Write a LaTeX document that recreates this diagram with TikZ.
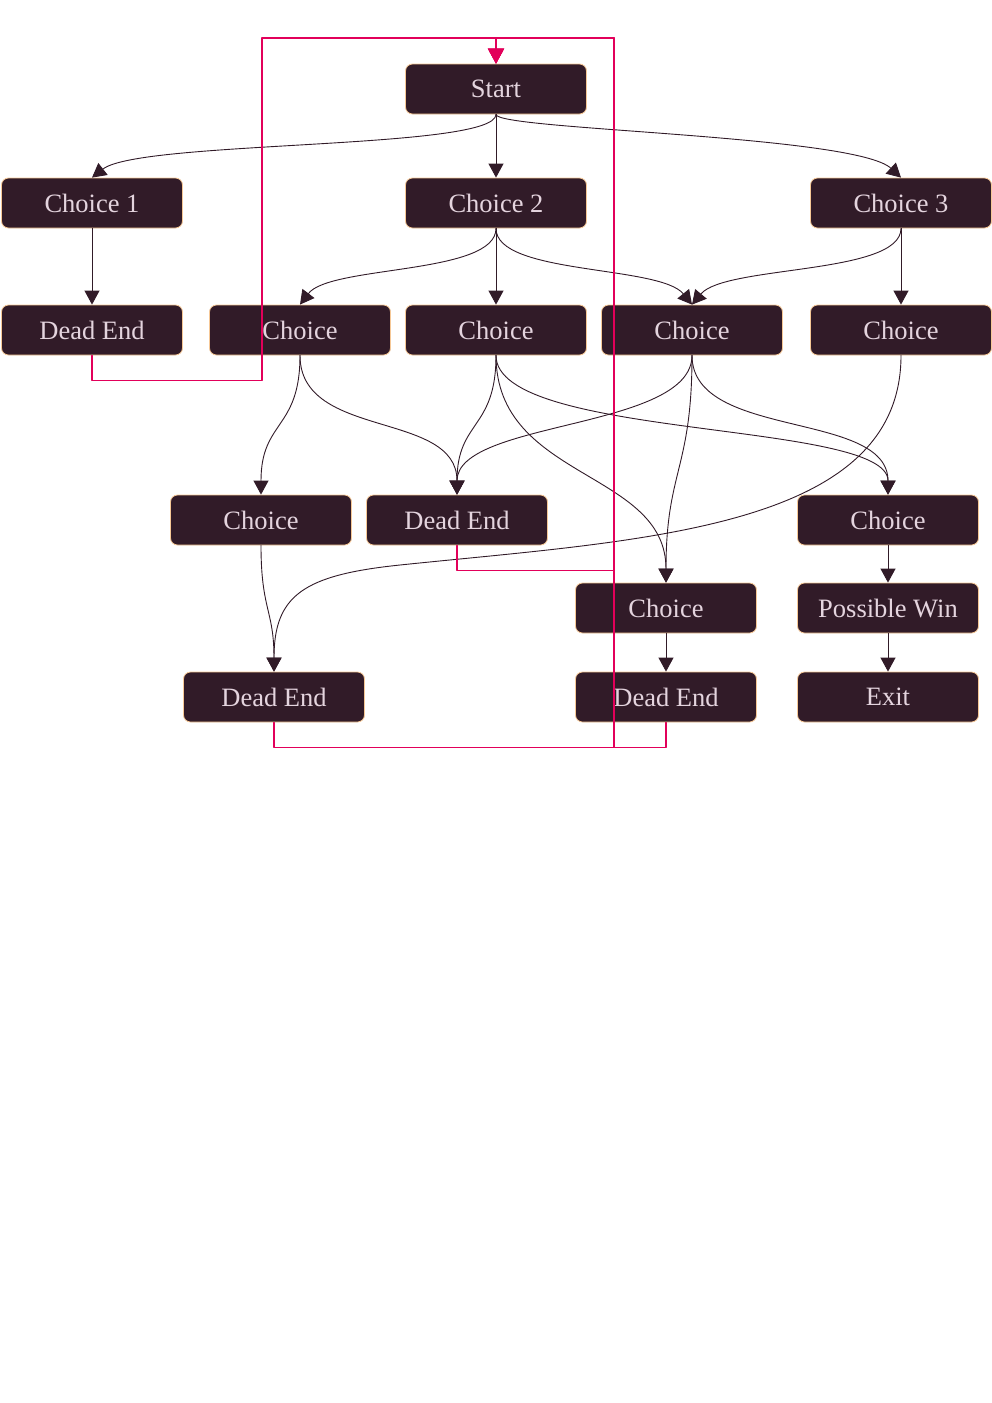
\documentclass[tikz,border=0pt]{standalone}
\usepackage{fontspec}
\setmainfont{Liberation Serif}
\usetikzlibrary{arrows.meta}
\definecolor{boxfill}{RGB}{49,27,40}
\definecolor{boxline}{RGB}{246,200,150}
\definecolor{boxtext}{RGB}{228,212,222}
\definecolor{backred}{RGB}{226,0,90}
\begin{document}
\begin{tikzpicture}[x=1pt,y=1pt,line cap=round,line join=round,
  box/.style={draw=boxline,fill=boxfill,text=boxtext,rounded corners=7pt,line width=.8pt,
    minimum width=181pt,minimum height=50pt,inner sep=0pt,font=\fontsize{26.5}{30}\selectfont},
  edge/.style={draw=boxfill,line width=.9pt,-{Triangle[length=14pt,width=15pt]}},
  back/.style={draw=backred,line width=1.1pt,-{Triangle[length=15pt,width=16pt]}}]
  \useasboundingbox (0,0) rectangle (992,-1403);
  % boxes, row by row
  \node[box] (start) at (496,-89) {Start};
  \node[box] (c1) at (92,-203) {Choice 1};
  \node[box] (c2) at (496,-203) {Choice 2};
  \node[box] (c3) at (901,-203) {Choice 3};
  \node[box] (dead1) at (92,-330) {Dead End};
  \node[box] (ch1) at (300,-330) {Choice};
  \node[box] (ch2) at (496,-330) {Choice};
  \node[box] (ch3) at (692,-330) {Choice};
  \node[box] (ch4) at (901,-330) {Choice};
  \node[box] (ch5) at (261,-520) {Choice};
  \node[box] (dead2) at (457,-520) {Dead End};
  \node[box] (ch6) at (888,-520) {Choice};
  \node[box] (ch7) at (666,-608) {Choice};
  \node[box] (win) at (888,-608) {Possible Win};
  \node[box] (dead3) at (274,-697) {Dead End};
  \node[box] (dead4) at (666,-697) {Dead End};
  \node[box] (exit) at (888,-697) {Exit};

  \draw[edge] (start.south) .. controls (496,-150) and (140,-140) .. (c1.north);
  \draw[edge] (start.south) -- (c2.north);
  \draw[edge] (start.south) .. controls (496,-130) and (855,-135) .. (c3.north);
  \draw[edge] (c1.south) -- (dead1.north);
  \draw[edge] (c2.south) .. controls (496,-275) and (330,-265) .. (ch1.north);
  \draw[edge] (c2.south) -- (ch2.north);
  \draw[edge] (c2.south) .. controls (496,-275) and (660,-265) .. (ch3.north);
  \draw[edge] (c3.south) .. controls (901,-275) and (725,-265) .. (ch3.north);
  \draw[edge] (c3.south) -- (ch4.north);

  \draw[edge] (ch1.south) .. controls (300,-430) and (261,-420) .. (ch5.north);
  \draw[edge] (ch1.south) .. controls (300,-440) and (457,-410) .. (dead2.north);
  \draw[edge] (ch2.south) .. controls (496,-430) and (457,-420) .. (dead2.north);
  \draw[edge] (ch2.south) .. controls (496,-440) and (888,-420) .. (ch6.north);
  \draw[edge] (ch2.south) .. controls (496,-480) and (666,-470) .. (ch7.north);
  \draw[edge] (ch3.south) .. controls (692,-430) and (457,-420) .. (dead2.north);
  \draw[edge] (ch3.south) .. controls (692,-470) and (666,-470) .. (ch7.north);
  \draw[edge] (ch3.south) .. controls (692,-440) and (888,-410) .. (ch6.north);
  \draw[edge] (ch4.south) .. controls (901,-530) and (640,-540) .. (400,-565)
    .. controls (304,-575) and (274,-595) .. (dead3.north);
  \draw[edge] (ch5.south) .. controls (261,-610) and (274,-610) .. (dead3.north);
  \draw[edge] (ch7.south) -- (dead4.north);
  \draw[edge] (ch6.south) -- (win.north);
  \draw[edge] (win.south) -- (exit.north);

  % dead ends lead back to start
  \coordinate (top) at (496,-38);
  \draw[back] (dead1.south) -- ++(0,-25) -| (262,-38) -- (top) -- (start.north);
  \draw[back] (dead2.south) -- ++(0,-25) -| (614,-38) -- (top) -- (start.north);
  \draw[back] (dead3.south) -- ++(0,-25) -| (614,-38) -- (top) -- (start.north);
  \draw[back] (dead4.south) -- ++(0,-25) -| (614,-38) -- (top) -- (start.north);
\end{tikzpicture}
\end{document}
